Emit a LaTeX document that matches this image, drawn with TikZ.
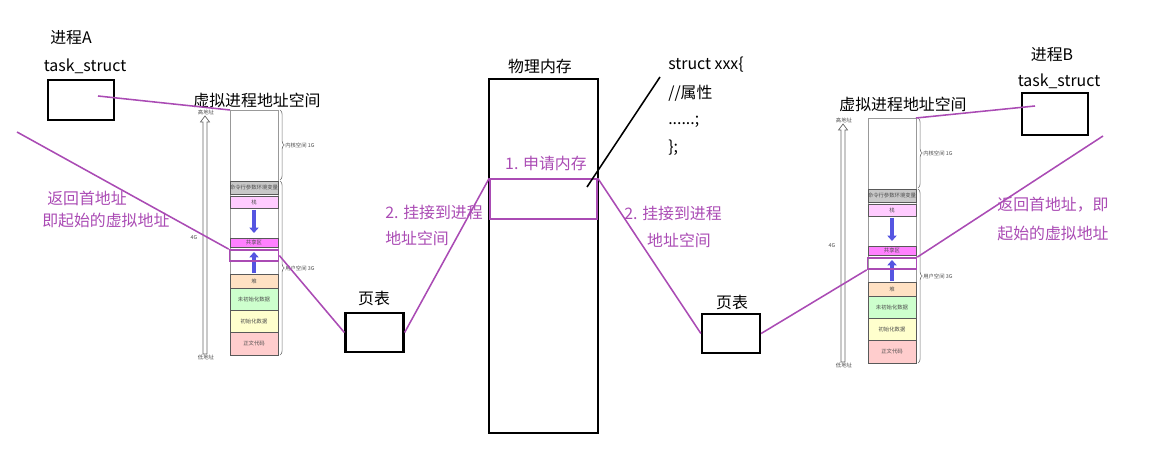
\documentclass[tikz,border=0pt]{standalone}
\usepackage{fontspec}
\setmainfont{Noto Sans CJK SC}
\usepackage{tikz}
\usetikzlibrary{arrows.meta}
\usetikzlibrary{decorations.pathreplacing}
\definecolor{vio}{RGB}{170,75,180}
\definecolor{cmdgray}{RGB}{200,200,200}
\definecolor{stackpink}{RGB}{255,204,255}
\definecolor{shmpink}{RGB}{255,128,255}
\definecolor{heappeach}{RGB}{255,225,195}
\definecolor{bssgreen}{RGB}{205,255,205}
\definecolor{datayellow}{RGB}{255,255,205}
\definecolor{textred}{RGB}{255,205,205}
\definecolor{arrblue}{RGB}{85,85,225}
\tikzset{
    txt/.style={font=\fontsize{11.3}{13}\selectfont, inner sep=0pt},
    vtxt/.style={txt, text=vio},
    maptxt/.style={font=\fontsize{3.8}{4}\selectfont, text=black!70, inner sep=0pt},
    % black boxes
    blackbox/.style={draw=black, line width=1.6pt, fill=white, inner sep=0pt},
    hlbox/.style={draw=vio, line width=1.1pt, inner sep=0pt,
        minimum width=1.225cm, minimum height=0.28cm},
    link/.style={draw=vio, line width=1.1pt},
    seg/.style={draw=black!65, line width=0.45pt},
    colborder/.style={draw=black!40, line width=0.5pt},
    bluearr/.style={draw=arrblue, line width=2.6pt,
        -{Triangle[length=3.8pt, width=6.5pt]}},
    addrline/.style={draw=black!60, line width=0.5pt},
    bracedeco/.style={draw=black!55, line width=0.45pt,
        decorate, decoration={brace, amplitude=3pt}}
}
% one virtual address space, shifted by (#1,#2), node names start with #3
\newcommand{\addrspace}[3]{%
\begin{scope}[shift={(#1,#2)}]
    \draw[colborder, fill=white] (0,0) rectangle (48,245);
    \coordinate (#3topl) at (0,0);
    \coordinate (#3topr) at (48,0);
    \draw[seg, fill=cmdgray] (0,71) rectangle (48,84);
    \node[maptxt] (#3cmd) at (24,77.5) {命令行参数环境变量};
    \draw[seg, fill=stackpink] (0,86) rectangle (48,98);
    \node[maptxt] (#3stack) at (24,92) {栈};
    \draw[seg, fill=shmpink] (0,128) rectangle (48,137);
    \node[maptxt] (#3shm) at (24,132.5) {共享区};
    \draw[seg, fill=heappeach] (0,164) rectangle (48,178);
    \node[maptxt] (#3heap) at (24,171) {堆};
    \draw[seg, fill=bssgreen] (0,178) rectangle (48,200);
    \node[maptxt] (#3bss) at (24,189) {未初始化数据};
    \draw[seg, fill=datayellow] (0,200) rectangle (48,222);
    \node[maptxt] (#3data) at (24,211) {初始化数据};
    \draw[seg, fill=textred] (0,222) rectangle (48,245);
    \node[maptxt] (#3text) at (24,233.5) {正文代码};
    \draw[bluearr] (24,100) -- (24,123);
    \draw[bluearr] (24,163) -- (24,142);
    \node[hlbox] (#3hl) at (24,145.5) {};
    % address arrow
    \draw[addrline] (-27,244) -- (-27,12) -- (-29.5,12) -- (-25,6)
        -- (-20.5,12) -- (-23,12) -- (-23,244) -- cycle;
    \node[maptxt] (#3high) at (-24,2) {高地址};
    \node[maptxt] (#3low) at (-24,247) {低地址};
    \node[maptxt] (#3four) at (-36,128) {4G};
    \draw[bracedeco] (50,0) -- (50,70);
    \draw[bracedeco] (50,71) -- (50,245);
    \node[maptxt, anchor=west] (#3kern) at (55,35) {内核空间 1G};
    \node[maptxt, anchor=west] (#3user) at (55,158) {用户空间 3G};
\end{scope}}

\begin{document}
\begin{tikzpicture}[x=0.025cm, y=-0.025cm]
    \useasboundingbox (0,0) rectangle (1152,457);

    % process A
    \node[txt] (procA) at (71,38) {进程A};
    \node[txt] (tsA) at (85,66) {task\_struct};
    \node[blackbox, minimum width=1.65cm, minimum height=1cm] (taskA) at (81,100) {};
    \node[txt] (vtitleA) at (257,100) {虚拟进程地址空间};
    \addrspace{230}{110}{A}

    % process B
    \node[txt] (procB) at (1052,55) {进程B};
    \node[txt] (tsB) at (1059,81) {task\_struct};
    \node[blackbox, minimum width=1.65cm, minimum height=1.05cm] (taskB) at (1055,114) {};
    \node[txt] (vtitleB) at (903,104) {虚拟进程地址空间};
    \addrspace{868}{118}{B}

    % page tables
    \node[txt] (ptlabA) at (374,298) {页表};
    \node[blackbox, minimum width=1.45cm, minimum height=0.975cm] (ptA) at (374.5,332.5) {};
    \node[txt] (ptlabB) at (732,302) {页表};
    \node[blackbox, minimum width=1.45cm, minimum height=0.975cm] (ptB) at (731,333.5) {};

    % physical memory
    \node[txt] (physlab) at (540,66) {物理内存};
    \node[blackbox, minimum width=2.725cm, minimum height=8.85cm] (phys) at (543.5,256) {};
    \node[hlbox, minimum width=2.675cm, minimum height=1cm] (physhl) at (543.5,199) {};
    \node[vtxt] (alloc) at (546,163) {1. 申请内存};

    % struct
    \foreach \t/\yy [count=\i] in {{struct xxx\{}/65, {//属性}/93, {......;}/122, {\};}/148}
        \node[txt, anchor=west] (s\i) at (668,\yy) {\t};
    \coordinate (structtip) at (660,77);
    \coordinate (physmark) at (587,187);
    \draw[black, line width=1.1pt] (structtip) -- (physmark);

    % labels
    \node[vtxt, anchor=west] (mapA1) at (385,212) {2. 挂接到进程};
    \node[vtxt, anchor=west] (mapA2) at (385,238) {地址空间};
    \node[vtxt] (mapB1) at (673,213) {2. 挂接到进程};
    \node[vtxt] (mapB2) at (679,240) {地址空间};
    \node[vtxt, anchor=west] (retA1) at (47,198) {返回首地址};
    \node[vtxt, anchor=west] (retA2) at (42,220) {即起始的虚拟地址};
    \node[vtxt] (retB1) at (1053,205) {返回首地址，即};
    \node[vtxt] (retB2) at (1053,233) {起始的虚拟地址};

    % purple connectors
    \coordinate (ainner) at (98,96);
    \coordinate (binner) at (1035,106);
    \coordinate (aret) at (17,132);
    \coordinate (bret) at (1103,136);
    \draw[link] (ainner) -- (Atopl);
    \draw[link] (aret) -- (Ahl.north west);
    \draw[link] (Ahl.east) -- (ptA.west);
    \draw[link] (ptA.east) -- (physhl.north west);
    \draw[link] (physhl.north east) -- (ptB.west);
    \draw[link] (ptB.east) -- (Bhl.south west);
    \draw[link] (Bhl.north east) -- (bret);
    \draw[link] (binner) -- (Btopr);
\end{tikzpicture}
\end{document}
